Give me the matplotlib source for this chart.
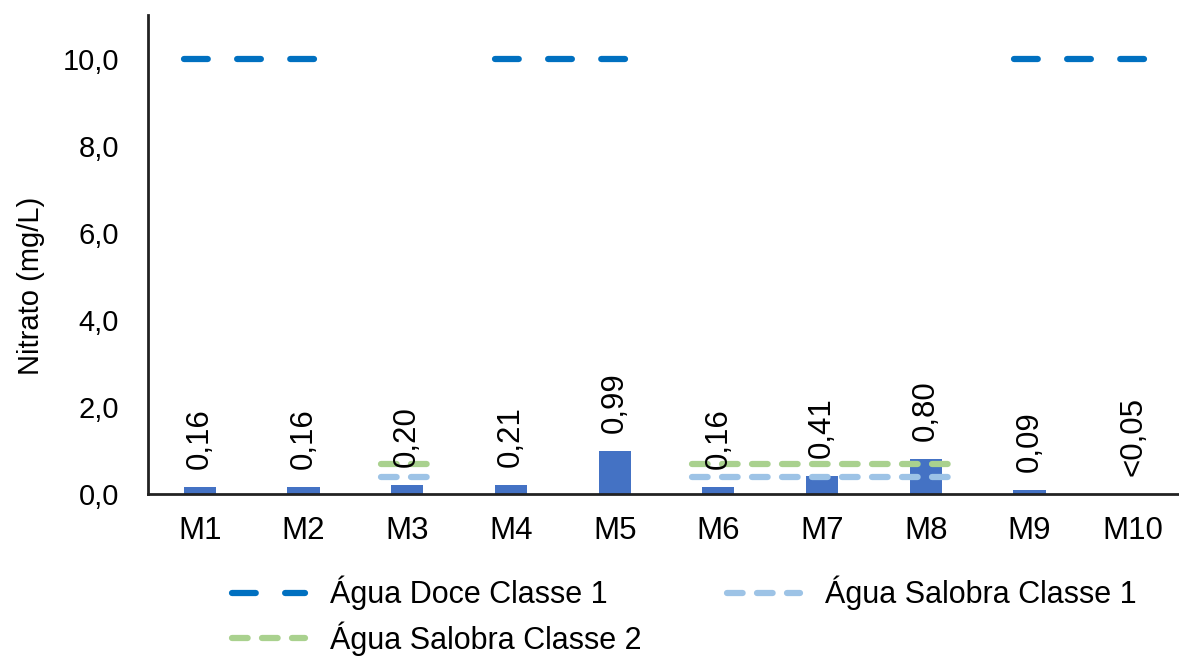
import matplotlib.pyplot as plt
import numpy as np

plt.rcParams["font.family"] = ["Liberation Sans", "DejaVu Sans"]

# Nitrate per sampling point (mg/L); M10 was below detection limit
sites = ["M1", "M2", "M3", "M4", "M5", "M6", "M7", "M8", "M9", "M10"]
nitrate = [0.16, 0.16, 0.20, 0.21, 0.99, 0.16, 0.41, 0.80, 0.09, 0.0]
nitrate_labels = ["0,16", "0,16", "0,20", "0,21", "0,99", "0,16", "0,41", "0,80", "0,09", "<0,05"]

# CONAMA limits and the stretches of sites where each applies
doce_c1 = 10.0
doce_c1_sites = [("M1", "M2"), ("M4", "M5"), ("M9", "M10")]
salobra_c1 = 0.40
salobra_c2 = 0.70
salobra_sites = [("M3", "M3"), ("M6", "M8")]

bar_color = "#4472C4"
c_doce = "#0070C0"
c_sal1 = "#9DC3E6"
c_sal2 = "#A9D18E"

W, H = 1179, 656
fig = plt.figure(figsize=(W / 100, H / 100), dpi=100)
ax = fig.add_axes([148 / W, 1 - 494 / H, 1 - 148 / W, (494 - 15) / H])

x = np.arange(len(sites))
ax.bar(x, nitrate, width=0.31, color=bar_color, zorder=2)

for xi, v, lab in zip(x, nitrate, nitrate_labels):
    ax.annotate(lab, (xi, v), xytext=(0, 13), textcoords="offset points",
                rotation=90, ha="center", va="bottom", fontsize=22.5, zorder=4)


def limit_line(ranges, value, color, dashes, label, pad=0.25):
    line = None
    for a, b in ranges:
        i0, i1 = sites.index(a), sites.index(b)
        (line,) = ax.plot([i0 - pad, i1 + pad], [value, value], color=color,
                          lw=4.5, dashes=dashes, dash_capstyle="round",
                          label=label, zorder=3)
    return line


h_doce = limit_line(doce_c1_sites, doce_c1, c_doce, (3.8, 4.7), "Água Doce Classe 1", pad=0.15)
h_sal1 = limit_line(salobra_sites, salobra_c1, c_sal1, (2.5, 2.3), "Água Salobra Classe 1")
h_sal2 = limit_line(salobra_sites, salobra_c2, c_sal2, (2.5, 2.3), "Água Salobra Classe 2")

ax.set_xlim(-0.5, -0.5 + (W - 148) / 103.7)
ax.set_ylim(0, 11)
ax.set_yticks([0, 2, 4, 6, 8, 10])
ax.set_yticklabels(["0,0", "2,0", "4,0", "6,0", "8,0", "10,0"])
ax.set_xticks(x)
ax.set_xticklabels(sites)
ax.tick_params(axis="y", length=0, pad=21, labelsize=21)
ax.tick_params(axis="x", length=0, pad=16, labelsize=22.5)

for s in ["top", "right"]:
    ax.spines[s].set_visible(False)
for s in ["left", "bottom"]:
    ax.spines[s].set_color("#222222")
    ax.spines[s].set_linewidth(2)

fig.text(31 / W, 1 - 286 / H, "Nitrato (mg/L)", rotation=90,
         ha="center", va="center", fontsize=21)

fig.legend(handles=[h_doce, h_sal2, h_sal1], loc="upper left",
           bbox_to_anchor=(232 / W, 1 - 576 / H), ncol=2, frameon=False,
           fontsize=22, handlelength=2.4, handletextpad=0.8,
           columnspacing=2.8, labelspacing=0.35, borderpad=0,
           borderaxespad=0)

fig.savefig("out.png", dpi=100)
